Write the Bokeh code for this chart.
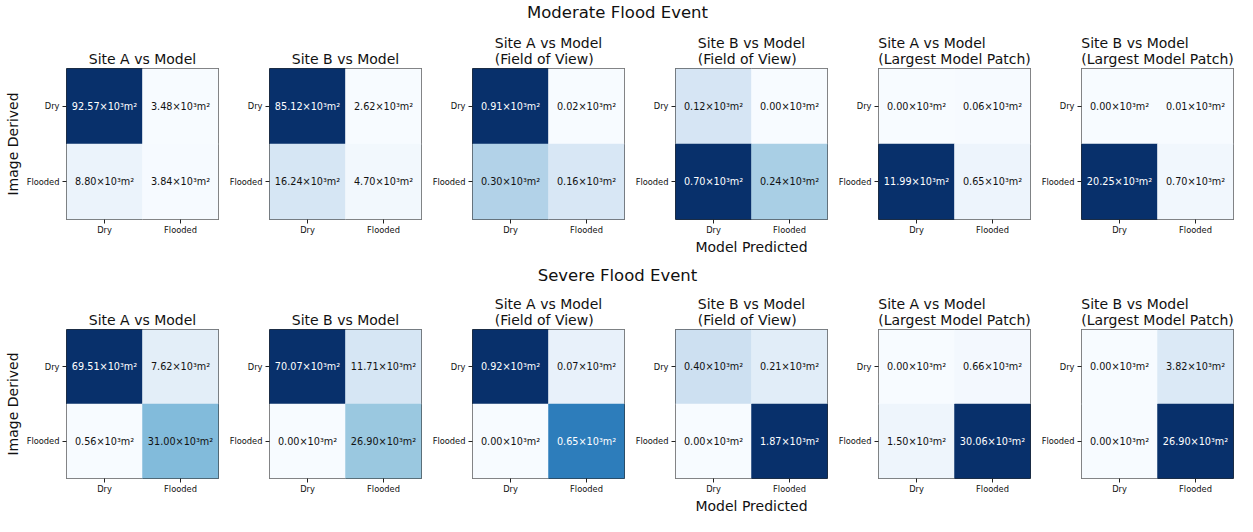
from bokeh.plotting import figure
from bokeh.models import ColumnDataSource, LinearColorMapper, Div
from bokeh.layouts import column, row
from bokeh.palettes import Blues256
from bokeh.embed import file_html
from bokeh.resources import INLINE
from bokeh.core.properties import value

classes = ["Dry", "Flooded"]
event_titles = ["Moderate Flood Event", "Severe Flood Event"]
panel_titles = [
    "Site A vs Model",
    "Site B vs Model",
    "Site A vs Model\n(Field of View)",
    "Site B vs Model\n(Field of View)",
    "Site A vs Model\n(Largest Model Patch)",
    "Site B vs Model\n(Largest Model Patch)",
]
x_label = "Model Predicted"
y_label = "Image Derived"

# areas in 10^3 m^2; rows = image derived (Dry, Flooded), columns = model predicted (Dry, Flooded)
moderate_site_a = [[92.57, 3.48], [8.80, 3.84]]
moderate_site_b = [[85.12, 2.62], [16.24, 4.70]]
moderate_site_a_fov = [[0.91, 0.02], [0.30, 0.16]]
moderate_site_b_fov = [[0.12, 0.00], [0.70, 0.24]]
moderate_site_a_patch = [[0.00, 0.06], [11.99, 0.65]]
moderate_site_b_patch = [[0.00, 0.01], [20.25, 0.70]]

severe_site_a = [[69.51, 7.62], [0.56, 31.00]]
severe_site_b = [[70.07, 11.71], [0.00, 26.90]]
severe_site_a_fov = [[0.92, 0.07], [0.00, 0.65]]
severe_site_b_fov = [[0.40, 0.21], [0.00, 1.87]]
severe_site_a_patch = [[0.00, 0.66], [1.50, 30.06]]
severe_site_b_patch = [[0.00, 3.82], [0.00, 26.90]]

events = [
    [moderate_site_a, moderate_site_b, moderate_site_a_fov,
     moderate_site_b_fov, moderate_site_a_patch, moderate_site_b_patch],
    [severe_site_a, severe_site_b, severe_site_a_fov,
     severe_site_b_fov, severe_site_a_patch, severe_site_b_patch],
]

FONT = "DejaVu Sans"
FRAME_W = 152
FRAME_H = 151
ROW_TOP = [42, 40]
ROW_BOTTOM = [44, 36]


def make_panel(mat, title, ci, ri):
    left = 66 if ci == 0 else 45
    right = 2 if ci == 5 else 6
    top = ROW_TOP[ri]
    bottom = ROW_BOTTOM[ri]
    p = figure(
        width=left + FRAME_W + right, height=top + FRAME_H + bottom,
        x_range=classes, y_range=classes[::-1],
        toolbar_location=None, output_backend="svg",
        min_border_left=left, min_border_right=right,
        min_border_top=top, min_border_bottom=bottom,
        title=title,
    )
    xs, ys, vals = [], [], []
    for i, ry in enumerate(classes):
        for j, cx in enumerate(classes):
            xs.append(cx)
            ys.append(ry)
            vals.append(mat[i][j])
    lo, hi = min(vals), max(vals)
    thresh = (lo + hi) / 2.0
    labels = [f"{v:.2f}×10³m²" for v in vals]
    tcolors = ["white" if v > thresh else "#111111" for v in vals]
    src = ColumnDataSource(dict(x=xs, y=ys, v=vals, label=labels, tc=tcolors))
    mapper = LinearColorMapper(palette=list(Blues256[::-1]), low=lo, high=hi)
    p.rect("x", "y", 1, 1, source=src,
           fill_color={"field": "v", "transform": mapper},
           line_color={"field": "v", "transform": mapper}, line_width=0.5)
    p.text("x", "y", text="label", source=src, text_align="center",
           text_baseline="middle", text_font=value(FONT),
           text_font_size="9.7px", text_color="tc")

    p.grid.visible = False
    p.outline_line_color = "#2a2a2a"
    p.outline_line_width = 1
    p.outline_line_alpha = 1
    p.background_fill_color = "white"
    p.border_fill_color = "white"

    for ax in (p.xaxis, p.yaxis):
        ax.axis_line_color = None
        ax.major_tick_in = 0
        ax.major_tick_out = 4
        ax.major_tick_line_color = "#222222"
        ax.major_label_text_font = FONT
        ax.major_label_text_font_size = "8.3px"
        ax.major_label_text_color = "#111111"
        ax.axis_label_text_font = FONT
        ax.axis_label_text_font_size = "14px"
        ax.axis_label_text_font_style = "normal"
        ax.axis_label_text_color = "#111111"
    p.xaxis.major_label_standoff = 1
    p.yaxis.major_label_standoff = 3
    p.xaxis.axis_label_standoff = 1
    p.yaxis.axis_label_standoff = 3
    if ci == 0:
        p.yaxis.axis_label = y_label
    if ci == 3:
        p.xaxis.axis_label = x_label

    p.title.align = "center"
    p.title.text_font = FONT
    p.title.text_font_size = "14px"
    p.title.text_font_style = "normal"
    p.title.text_color = "#111111"
    p.title.standoff = 4
    return p


items = []
for ri, mats in enumerate(events):
    items.append(Div(
        text=event_titles[ri], width=1235, height=26, margin=0,
        styles={"font-size": "16.5px", "font-family": FONT,
                "text-align": "center", "line-height": "26px",
                "color": "#111111"},
    ))
    items.append(row(*[make_panel(m, panel_titles[ci], ci, ri)
                       for ci, m in enumerate(mats)]))

layout = column(*items)
open("out.html", "w").write(file_html(layout, INLINE))
